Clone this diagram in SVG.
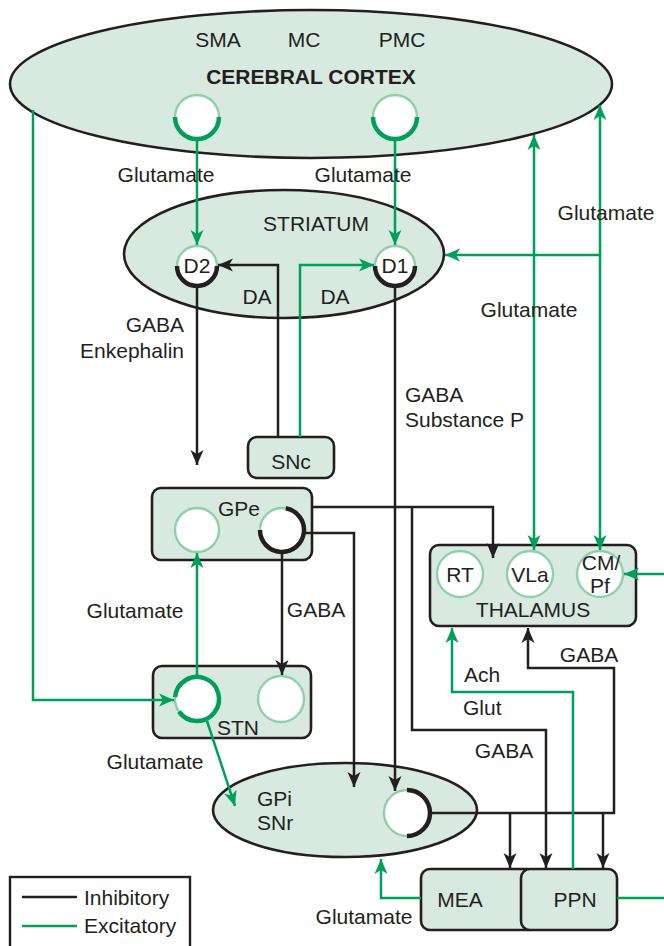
<svg xmlns="http://www.w3.org/2000/svg" width="664" height="946" viewBox="0 0 664 946">
<defs>
<style>
text{font-family:"Liberation Sans",Arial,sans-serif;font-size:21px;fill:#231f20}
.c{text-anchor:middle}
.e{text-anchor:end}
.shape{fill:#d8eadf;stroke:#231f20;stroke-width:2.6}
.cell{fill:#fff;stroke:#8fd0aa;stroke-width:2.4}
.k{fill:none;stroke:#231f20;stroke-width:2.5}
.g{fill:none;stroke:#00a05b;stroke-width:2.5}
.ka{marker-end:url(#ak)}
.ga{marker-end:url(#ag)}
.gaa{marker-end:url(#ag);marker-start:url(#ag)}
.thk{fill:none;stroke:#231f20;stroke-width:4.5}
.thg{fill:none;stroke:#00a05b;stroke-width:4.5}
</style>
<marker id="ak" markerUnits="userSpaceOnUse" markerWidth="16" markerHeight="16" viewBox="0 0 16 16" refX="15" refY="8" orient="auto-start-reverse"><path d="M0,1.5 L15,8 L0,14.5 L4,8 z" fill="#231f20"/></marker>
<marker id="ag" markerUnits="userSpaceOnUse" markerWidth="16" markerHeight="16" viewBox="0 0 16 16" refX="15" refY="8" orient="auto-start-reverse"><path d="M0,1.5 L15,8 L0,14.5 L4,8 z" fill="#00a05b"/></marker>
</defs>

<g id="cortex">
<ellipse class="shape" cx="311" cy="84" rx="301" ry="74"/>
<text class="c" x="218" y="47">SMA</text>
<text class="c" x="304" y="47">MC</text>
<text class="c" x="402" y="47">PMC</text>
<text class="c" x="311" y="84" font-weight="bold">CEREBRAL CORTEX</text>
<circle class="cell" cx="197" cy="117" r="22"/>
<path class="thg" d="M175,117 A22,22 0 0 0 219,117"/>
<circle class="cell" cx="395" cy="117" r="22"/>
<path class="thg" d="M373,117 A22,22 0 0 0 417,117"/>
</g>

<g id="striatum">
<ellipse class="shape" cx="284" cy="254" rx="160" ry="64"/>
<text class="c" x="316" y="231">STRIATUM</text>
<circle class="cell" cx="197" cy="266" r="20"/>
<path class="thk" d="M177,266 A20,20 0 0 0 217,266"/>
<text class="c" x="197" y="273">D2</text>
<circle class="cell" cx="395" cy="266" r="20"/>
<path class="thk" d="M375,266 A20,20 0 0 0 415,266"/>
<text class="c" x="395" y="273">D1</text>
</g>

<g id="snc">
<rect class="shape" x="248" y="437" width="86" height="41" rx="9"/>
<text class="c" x="291" y="469">SNc</text>
</g>

<g id="gpe">
<rect class="shape" x="152" y="488" width="160" height="72" rx="9"/>
<text class="c" x="239" y="516">GPe</text>
<circle class="cell" cx="197" cy="530" r="22"/>
<circle class="cell" cx="282" cy="530" r="22"/>
<path class="thk" d="M285.8,508.3 A22,22 0 1 1 260,530"/>
</g>

<g id="thalamus">
<rect class="shape" x="430" y="545" width="206" height="81" rx="9"/>
<circle class="cell" cx="460" cy="574" r="23"/>
<text class="c" x="460" y="582" font-size="20">RT</text>
<circle class="cell" cx="530" cy="574" r="23"/>
<text class="c" x="530" y="582" font-size="20">VLa</text>
<circle class="cell" cx="600" cy="574" r="23"/>
<text class="c" x="601" y="570" font-size="14">CM/</text>
<text class="c" x="600" y="593" font-size="14">Pf</text>
<text class="c" x="533" y="617">THALAMUS</text>
</g>

<g id="stn">
<rect class="shape" x="153" y="666" width="158" height="72" rx="9"/>
<circle class="cell" cx="197" cy="699" r="22"/>
<path class="thg" d="M175.1,697.1 A22,22 0 1 1 179,711.6"/>
<circle class="cell" cx="281" cy="699" r="23"/>
<text class="c" x="238" y="735">STN</text>
</g>

<g id="gpi">
<ellipse class="shape" cx="345" cy="810" rx="132" ry="47"/>
<text x="257" y="806">GPi</text>
<text x="257" y="830">SNr</text>
<circle class="cell" cx="407" cy="813" r="23"/>
<path class="thk" d="M407,790 A23,23 0 0 1 407,836"/>
</g>

<g id="mea">
<rect class="shape" x="421" y="869" width="116" height="61" rx="9"/>
<text class="c" x="460" y="907">MEA</text>
</g>
<g id="ppn">
<rect class="shape" x="521" y="869" width="96" height="61" rx="9"/>
<text class="c" x="575" y="907">PPN</text>
</g>

<g id="connectors">
<path class="g ga" d="M197,140 V245"/>
<path class="g ga" d="M395,140 V245"/>
<path class="k ka" d="M278,437 V265 H218"/>
<path class="g ga" d="M300,437 V265 H374"/>
<path class="k ka" d="M197,288 V465"/>
<path class="k ka" d="M395,288 V791"/>
<path class="k ka" d="M312,507 H493 V558"/>
<path class="k ka" d="M304,533 H354 V787"/>
<path class="k ka" d="M282,552 V675"/>
<path class="k ka" d="M412,507 V730 H546 V868"/>
<path class="k ka" d="M430,813 H614 V668 H528 V628"/>
<path class="k ka" d="M510,813 V868"/>
<path class="k ka" d="M603,813 V868"/>
<path class="g gaa" d="M534,135 V550"/>
<path class="g gaa" d="M600,105 V550"/>
<path class="g ga" d="M600,255 H445"/>
<path class="g ga" d="M664,574 H624"/>
<path class="g ga" d="M573,869 V692 H452 V628"/>
<path class="g ga" d="M421,898 H381 V859"/>
<path class="g" d="M617,898 H664"/>
<path class="g ga" d="M33,110 V700 H174"/>
<path class="g ga" d="M197,677 V553"/>
<path class="g ga" d="M207,721 L235,806"/>
</g>

<g id="labels">
<text class="c" x="166" y="182">Glutamate</text>
<text class="c" x="363" y="182">Glutamate</text>
<text class="c" x="257" y="304">DA</text>
<text class="c" x="335" y="304">DA</text>
<text class="e" x="184" y="332">GABA</text>
<text class="e" x="184" y="358">Enkephalin</text>
<text class="c" x="606" y="220">Glutamate</text>
<text class="c" x="529" y="317">Glutamate</text>
<text x="405" y="402">GABA</text>
<text x="405" y="427">Substance P</text>
<text class="c" x="135" y="618">Glutamate</text>
<text class="c" x="316" y="617">GABA</text>
<text x="464" y="682">Ach</text>
<text x="463" y="715">Glut</text>
<text class="c" x="589" y="662">GABA</text>
<text class="c" x="504" y="758">GABA</text>
<text class="c" x="155" y="769">Glutamate</text>
<text class="c" x="364" y="924">Glutamate</text>
</g>

<g id="legend">
<rect x="10" y="877" width="180" height="80" fill="#fff" stroke="#231f20" stroke-width="2.4"/>
<path class="k" d="M22,897 H77"/>
<path class="g" d="M22,926 H77"/>
<text x="84" y="905">Inhibitory</text>
<text x="84" y="933">Excitatory</text>
</g>
</svg>
